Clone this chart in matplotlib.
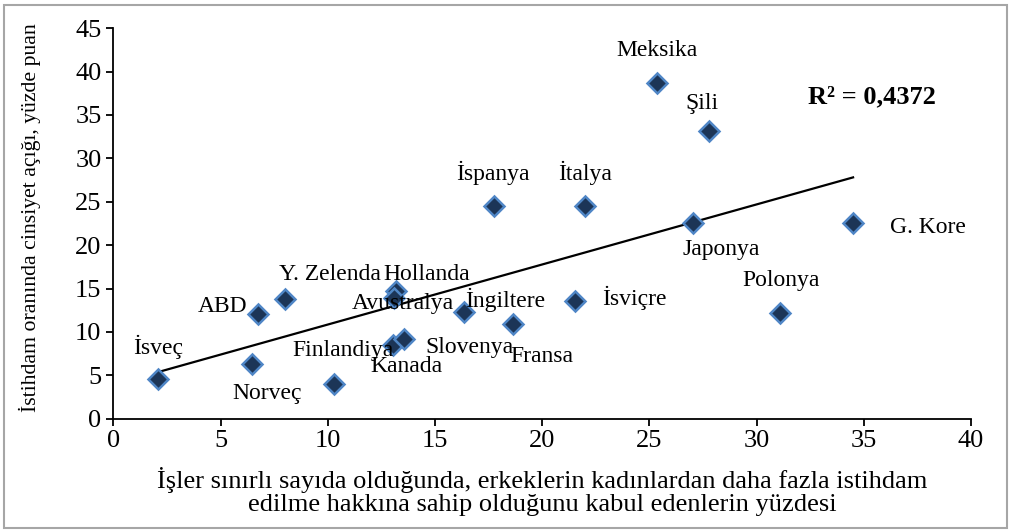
import numpy as np
import matplotlib
matplotlib.use('Agg')
import matplotlib.pyplot as plt
from matplotlib.patches import Rectangle

plt.rcParams['font.family'] = ['Liberation Serif', 'DejaVu Serif']

# veriler
countries = ['İsveç', 'Norveç', 'ABD', 'Y. Zelenda', 'Finlandiya', 'Kanada', 'Slovenya',
             'Hollanda', 'Avustralya', 'İngiltere', 'Fransa', 'İsviçre', 'İspanya',
             'İtalya', 'Meksika', 'Şili', 'Japonya', 'G. Kore', 'Polonya']
x_vals = [2.1, 6.45, 6.75, 8.0, 10.3, 13.05, 13.55,
          13.2, 13.1, 16.35, 18.65, 21.55, 17.75,
          22.0, 25.35, 27.8, 27.05, 34.5, 31.1]
y_vals = [4.6, 6.3, 12.1, 13.8, 4.0, 8.5, 9.2,
          14.75, 13.9, 12.25, 10.9, 13.6, 24.55,
          24.55, 38.65, 33.15, 22.55, 22.55, 12.15]

# etiket kaymaları (piksel)
offsets = {
    'İsveç': (0, 32), 'Norveç': (15, -29), 'ABD': (-35, 7), 'Y. Zelenda': (45, 24),
    'Finlandiya': (9, 33), 'Kanada': (13, -22), 'Slovenya': (66, -9),
    'Hollanda': (30, 16), 'Avustralya': (9, -5), 'İngiltere': (41, 12),
    'Fransa': (29, -32), 'İsviçre': (59, 3), 'İspanya': (-1, 33), 'İtalya': (0, 33),
    'Meksika': (0, 33), 'Şili': (-7, 28), 'Japonya': (28, -26), 'G. Kore': (75, -4),
    'Polonya': (1, 33),
}

fig = plt.figure(figsize=(10.12, 5.32), dpi=100)
ax = fig.add_axes([0.112, 0.213, 0.8475, 0.734])

# trend çizgisi
x = np.array(x_vals)
y = np.array(y_vals)
m, b = np.polyfit(x, y, 1)
xs = np.array([x.min(), x.max()])
ax.plot(xs, m * xs + b, color='black', linewidth=1.6, zorder=2)

ax.plot(x_vals, y_vals, linestyle='none', marker='D', markersize=10,
        markerfacecolor='#1c3557', markeredgecolor='#4f86c6', markeredgewidth=1.8, zorder=3)

for name, xv, yv in zip(countries, x_vals, y_vals):
    dx, dy = offsets[name]
    ax.annotate(name, (xv, yv), xytext=(dx, dy), textcoords='offset pixels',
                ha='center', va='center', fontsize=17, zorder=4)

fig.text(0.8617, 0.8177, 'R² = 0,4372', ha='center', va='center',
         fontsize=19, fontweight='bold')

ax.set_xlim(0, 40)
ax.set_ylim(0, 45)
ax.set_xticks(range(0, 41, 5))
ax.set_yticks(range(0, 46, 5))
ax.spines['top'].set_visible(False)
ax.spines['right'].set_visible(False)
ax.spines['left'].set_linewidth(1.3)
ax.spines['bottom'].set_linewidth(1.3)
ax.tick_params(axis='both', direction='out', length=5, width=1.3, labelsize=19)

# eksen başlıkları
fig.text(0.5356, 1 - 480 / 532, 'İşler sınırlı sayıda olduğunda, erkeklerin kadınlardan daha fazla istihdam',
         ha='center', va='center', fontsize=19)
fig.text(0.5356, 1 - 505 / 532, 'edilme hakkına sahip olduğunu kabul edenlerin yüzdesi',
         ha='center', va='center', fontsize=19)
fig.text(30 / 1012, 1 - 218 / 532, 'İstihdam oranında cinsiyet açığı, yüzde puan',
         rotation=90, ha='center', va='center', fontsize=15.7)

fig.patches.append(Rectangle((4, 4), 1003, 523, transform=None, fill=False,
                             edgecolor='#a6a6a6', linewidth=1.5))

fig.savefig('out.png', dpi=100)
